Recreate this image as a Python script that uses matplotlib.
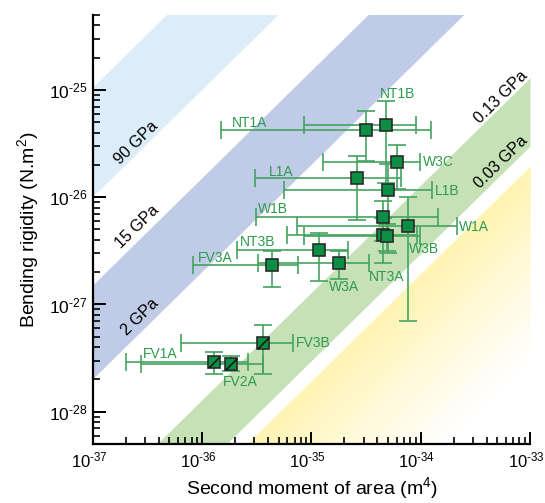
import numpy as np
import matplotlib
matplotlib.use("Agg")
import matplotlib.pyplot as plt
import matplotlib.transforms as mtransforms
from matplotlib.path import Path
from matplotlib.ticker import FuncFormatter

plt.rcParams['font.family'] = ['Liberation Sans', 'DejaVu Sans']
plt.rcParams['mathtext.fontset'] = 'custom'
plt.rcParams['mathtext.rm'] = 'Liberation Sans'
plt.rcParams['mathtext.it'] = 'Liberation Sans:italic'
plt.rcParams['mathtext.bf'] = 'Liberation Sans:bold'
plt.rcParams['mathtext.default'] = 'regular'

# ---------------- data ----------------
labels = ["NT1A", "NT1B", "W3C", "L1A", "L1B", "W1B", "W1A", "NT3A", "W3B",
          "NT3B", "W3A", "FV3A", "FV3B", "FV1A", "FV2A"]
I_m4 = [3.15e-35, 4.81e-35, 6.10e-35, 2.62e-35, 5.05e-35, 4.49e-35, 7.64e-35, 4.49e-35, 4.91e-35,
        1.17e-35, 1.80e-35, 4.31e-36, 3.57e-36, 1.29e-36, 1.82e-36]
I_low = [1.49e-36, 8.53e-36, 1.28e-35, 3.04e-36, 5.60e-36, 3.10e-36, 7.33e-36, 6.0e-36, 8.53e-36,
         2.07e-36, 3.22e-36, 8.28e-37, 6.38e-37, 2.0e-37, 2.73e-37]
I_high = [1.23e-34, 9.06e-35, 9.84e-35, 6.55e-35, 1.28e-34, 1.44e-34, 2.13e-34, 9.19e-35, 9.84e-35,
          2.17e-35, 3.38e-35, 7.57e-36, 6.81e-36, 2.64e-36, 3.60e-36]
EI = [4.25e-26, 4.67e-26, 2.13e-26, 1.51e-26, 1.17e-26, 6.52e-27, 5.41e-27, 4.44e-27, 4.35e-27,
      3.20e-27, 2.42e-27, 2.32e-27, 4.39e-28, 2.93e-28, 2.80e-28]
EI_low = [2.16e-26, 1.37e-26, 1.18e-26, 6.11e-27, 3.0e-27, 3.88e-27, 7.06e-28, 2.46e-27, 3.15e-27,
          1.64e-27, 1.74e-27, 1.46e-27, 2.26e-28, 2.23e-28, 2.42e-28]
EI_high = [6.42e-26, 7.96e-26, 3.08e-26, 2.40e-26, 2.06e-26, 9.18e-27, 1.01e-26, 6.4e-27, 5.58e-27,
           4.67e-27, 3.15e-27, 3.17e-27, 6.49e-28, 3.59e-28, 3.34e-28]
hatched = [False] * 12 + [True] * 3

# modulus bands (Pa)
band_E_upper = [1.05e12, 1.5e10, 1.3e8]
band_E_lower = [1.0e11, 2.0e9, 3.0e7]
band_colors = ["#dcedf9", "#c0cbe7", "#c6e1b6"]
yellow_E_edge = 1.9e7
band_labels = ["90 GPa", "15 GPa", "2 GPa", "0.13 GPa", "0.03 GPa"]

x_ticks = [1e-37, 1e-36, 1e-35, 1e-34, 1e-33]
y_ticks = [1e-28, 1e-27, 1e-26, 1e-25]

# ---------------- layout (annotation positions) ----------------
point_label_pos = {
    "NT1A": (1.87e-36, 4.94e-26, "left"), "NT1B": (6.12e-35, 9.18e-26, "center"),
    "W3C": (1.05e-34, 2.12e-26, "left"), "L1A": (5.26e-36, 1.73e-26, "center"),
    "L1B": (1.35e-34, 1.15e-26, "left"), "W1B": (3.24e-36, 7.69e-27, "left"),
    "W1A": (2.24e-34, 5.24e-27, "left"), "W3B": (1.07e-34, 3.27e-27, "center"),
    "NT3A": (4.86e-35, 1.80e-27, "center"), "W3A": (1.98e-35, 1.45e-27, "center"),
    "NT3B": (2.22e-36, 3.82e-27, "left"), "FV3A": (9.14e-37, 2.70e-27, "left"),
    "FV3B": (7.21e-36, 4.39e-28, "left"), "FV1A": (2.87e-37, 3.46e-28, "left"),
    "FV2A": (1.55e-36, 1.91e-28, "left"),
}
band_label_pos = [(2.48e-37, 3.22e-26), (2.53e-37, 5.35e-27), (2.69e-37, 7.64e-28),
                  (5.43e-34, 8.61e-26), (5.43e-34, 2.14e-26)]

XLIM = (1e-37, 1e-33)
YLIM = (5e-29, 5e-25)

fig = plt.figure(figsize=(5.45, 5.03), dpi=100)
ax = fig.add_axes([0.1706, 0.1173, 0.9725 - 0.1706, 0.9702 - 0.1173])
ax.set_xscale('log')
ax.set_yscale('log')

# bands
xs = np.array(XLIM)
for lo, hi, c in zip(band_E_lower, band_E_upper, band_colors):
    ax.fill_between(xs, lo * xs, hi * xs, color=c, lw=0, zorder=0)

# yellow gradient region below yellow_E_edge
nu, nv = 400, 400
u = np.linspace(0, 1, nu)
v = np.linspace(0, 1, nv)
U, V = np.meshgrid(u, v)
lx = np.log10(XLIM[0]) + U * (np.log10(XLIM[1]) - np.log10(XLIM[0]))
ly = np.log10(YLIM[0]) + V * (np.log10(YLIM[1]) - np.log10(YLIM[0]))
d = np.log10(yellow_E_edge) - (ly - lx)
alpha = np.where(d >= 0, 0.9 * np.clip(1 - d / 1.9, 0, 1) ** 1.2, 0)
img = np.zeros((nv, nu, 4))
img[..., 0] = 1.0
img[..., 1] = 0.955
img[..., 2] = 0.66
img[..., 3] = alpha
ax.imshow(img, extent=[0, 1, 0, 1], origin='lower', transform=ax.transAxes,
          aspect='auto', zorder=0, interpolation='bilinear')

ax.set_xlim(*XLIM)
ax.set_ylim(*YLIM)

# data
ebar_color = "#44a360"
I_arr = np.array(I_m4)
EI_arr = np.array(EI)
xerr = np.vstack([I_arr - np.array(I_low), np.array(I_high) - I_arr])
yerr = np.vstack([EI_arr - np.array(EI_low), np.array(EI_high) - EI_arr])
ax.errorbar(I_arr, EI_arr, xerr=xerr, yerr=yerr, fmt='none', ecolor=ebar_color,
            elinewidth=1.2, capsize=6.5, capthick=1.2, zorder=3)
ax.plot(I_arr, EI_arr, ls='none', marker='s', ms=8.2, mfc='#0a8f44', mec='#2a2a2a',
        mew=1.2, zorder=5)
slash = Path([(-0.5, -0.5), (0.5, 0.5)], [Path.MOVETO, Path.LINETO])
hx = [x for x, h in zip(I_m4, hatched) if h]
hy = [y for y, h in zip(EI, hatched) if h]
ax.plot(hx, hy, ls='none', marker=slash, ms=8.2, mec='#111111', mew=1.1, zorder=6)

label_color = "#2e9a4c"
for name in labels:
    x, y, ha = point_label_pos[name]
    ax.text(x, y, name, color=label_color, fontsize=10, ha=ha, va='center', zorder=7)

# band label rotation
p1 = ax.transData.transform((1e-36, 1e-27))
p2 = ax.transData.transform((1e-35, 1e-26))
ang = np.degrees(np.arctan2(p2[1] - p1[1], p2[0] - p1[0]))
for (x, y), t in zip(band_label_pos, band_labels):
    ax.text(x, y, t, rotation=ang, rotation_mode='anchor', ha='center', va='center',
            fontsize=11.5, color='black', zorder=7, clip_on=False)

# axes styling
def pow_label(val):
    n = int(round(np.log10(val)))
    return r"$10^{\text{-%d}}$" % (-n) if n < 0 else r"$10^{%d}$" % n

ax.set_xticks(x_ticks)
ax.set_xticklabels([pow_label(v) for v in x_ticks])
ax.set_yticks(y_ticks)
ax.set_yticklabels([pow_label(v) for v in y_ticks])
ax.set_xlim(*XLIM)
ax.set_ylim(*YLIM)

for s in ['top', 'right']:
    ax.spines[s].set_visible(False)
for s in ['left', 'bottom']:
    ax.spines[s].set_linewidth(1.6)
ax.tick_params(which='major', direction='in', length=9, width=1.4, labelsize=12.5, pad=5)
ax.tick_params(which='minor', direction='in', length=5, width=1.2)
ax.tick_params(axis='x', which='both', top=False)
ax.tick_params(axis='x', which='major', labelsize=12)
ax.tick_params(axis='y', which='both', right=False)
ax.tick_params(axis='y', which='major', pad=4)

shift = mtransforms.ScaledTranslation(-4 / 100.0, 0, fig.dpi_scale_trans)
for lab in ax.get_xticklabels():
    lab.set_transform(lab.get_transform() + shift)

ax.set_xlabel("Second moment of area (m$^4$)", fontsize=14, labelpad=3)
ax.set_ylabel("Bending rigidity (N.m$^2$)", fontsize=14, labelpad=6)

fig.savefig("out.png", dpi=100)
